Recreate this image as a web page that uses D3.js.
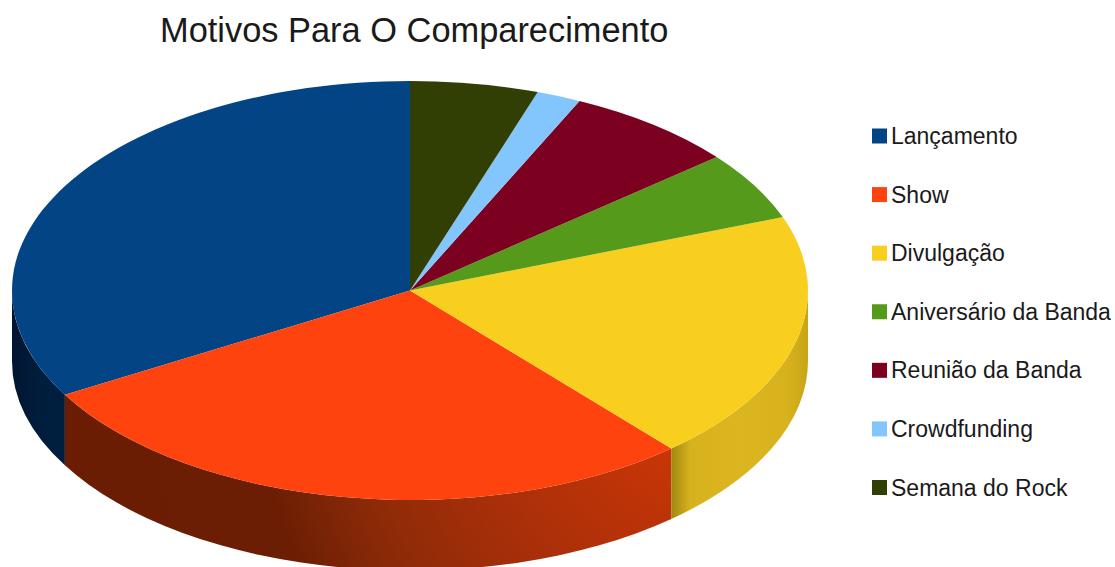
<!DOCTYPE html>
<html>
<head>
<meta charset="utf-8">
<script src="https://cdn.jsdelivr.net/npm/d3@7"></script>
<style>
  html, body { margin: 0; padding: 0; background: #fff; }
  svg { display: block; }
  text { font-family: "Liberation Sans", Arial, sans-serif; fill: #1a1a1a; }
</style>
</head>
<body>
<svg id="chart" width="1115" height="567"></svg>
<script>
const chartTitle = "Motivos Para O Comparecimento";
const categories = ["Lançamento", "Show", "Divulgação", "Aniversário da Banda", "Reunião da Banda", "Crowdfunding", "Semana do Rock"];
const shares = [33.3, 28.1, 19.3, 5.3, 7.0, 1.8, 5.2];
const colors = ["#034584", "#fe430e", "#f9cf1f", "#569a1c", "#7c0020", "#83c6fd", "#313e04"];

// Shading of the visible side walls.
const blueWallStops = [[0, "#00152f"], [0.5, "#001d3c"], [1, "#001f40"]];
const yellowWallStops = [[0, "#a08810"], [0.06, "#b89a15"], [0.14, "#d8b21e"], [0.5, "#dcb620"], [0.85, "#d8b21d"], [1, "#c8a415"]];
// The orange wall is lit from its upper right, so its shade falls off radially.
const orangeWallStops = [[0.1, "#cc3607"], [0.34, "#ad3009"], [0.52, "#912b08"], [0.6, "#7f2606"], [0.68, "#6b1e03"], [1, "#6a1d03"]];

const width = 1115, height = 567;
const cx = 410, cy = 290.5, rx = 398, ry = 209.5, depth = 70.5;

const svg = d3.select("#chart");
const defs = svg.append("defs");

// Flat ellipse projection of a unit circle; angle 0 points up, positive runs clockwise.
const xScale = d3.scaleLinear().domain([-1, 1]).range([cx - rx, cx + rx]);
const yScale = d3.scaleLinear().domain([-1, 1]).range([cy - ry, cy + ry]);
const px = a => xScale(Math.sin(a));
const py = a => yScale(-Math.cos(a));

const rows = categories.map((name, i) => ({ name, share: shares[i], color: colors[i] }));
const arcs = d3.pie().sort(null).value(d => d.share).startAngle(0).endAngle(-2 * Math.PI)(rows);

// The front half of the rim lies between 90 and 270 degrees (clockwise from the top).
const normalise = a => ((a % (2 * Math.PI)) + 2 * Math.PI) % (2 * Math.PI);
const frontStart = Math.PI / 2, frontEnd = 3 * Math.PI / 2;

function wallSpan(d) {
  // Slices run counter-clockwise, so endAngle is the smaller clockwise bearing.
  let lo = normalise(d.endAngle), hi = lo + (d.startAngle - d.endAngle);
  lo = Math.max(lo, frontStart);
  hi = Math.min(hi, frontEnd);
  return lo < hi ? [lo, hi] : null;
}

function wallPath(lo, hi) {
  return `M${px(lo)},${py(lo)} A${rx},${ry} 0 0 1 ${px(hi)},${py(hi)} ` +
         `L${px(hi)},${py(hi) + depth} A${rx},${ry} 0 0 0 ${px(lo)},${py(lo) + depth} Z`;
}

function addStops(gradient, stops) {
  gradient.selectAll("stop").data(stops).join("stop")
    .attr("offset", s => s[0])
    .attr("stop-color", s => s[1]);
}

function addLinearWall(id, lo, hi, stops) {
  const x0 = Math.min(px(lo), px(hi)), x1 = Math.max(px(lo), px(hi));
  addStops(defs.append("linearGradient")
    .attr("id", id)
    .attr("gradientUnits", "userSpaceOnUse")
    .attr("x1", x0).attr("x2", x1).attr("y1", 0).attr("y2", 0), stops);
}

const walls = arcs.map(d => ({ d, span: wallSpan(d) })).filter(w => w.span);

walls.forEach((w, i) => {
  const id = "wall" + i;
  const [lo, hi] = w.span;
  if (w.d.data.name === "Show") {
    addStops(defs.append("radialGradient")
      .attr("id", id)
      .attr("gradientUnits", "userSpaceOnUse")
      .attr("cx", 720).attr("cy", 380).attr("r", 680), orangeWallStops);
  } else {
    addLinearWall(id, lo, hi, w.d.data.name === "Divulgação" ? yellowWallStops : blueWallStops);
  }
});

svg.append("g").attr("class", "walls")
  .selectAll("path").data(walls).join("path")
  .attr("d", w => wallPath(w.span[0], w.span[1]))
  .attr("fill", (w, i) => `url(#wall${i})`);

// Top face: each wedge is traced along the ellipse from centre to rim.
function wedgePath(d) {
  const a0 = d.startAngle, a1 = d.endAngle;
  const large = Math.abs(a1 - a0) > Math.PI ? 1 : 0;
  return `M${cx},${cy} L${px(a0)},${py(a0)} A${rx},${ry} 0 ${large} 0 ${px(a1)},${py(a1)} Z`;
}

svg.append("g").attr("class", "top")
  .selectAll("path").data(arcs).join("path")
  .attr("d", wedgePath)
  .attr("fill", d => d.data.color);

svg.append("text")
  .attr("x", 160).attr("y", 42)
  .attr("font-size", 34.4)
  .text(chartTitle);

// Legend column to the right of the pie.
const legendY = d3.scalePoint().domain(categories).range([136, 487.5]);
const legend = svg.append("g").attr("class", "legend")
  .selectAll("g").data(rows).join("g")
  .attr("transform", d => `translate(872,${legendY(d.name)})`);
legend.append("rect")
  .attr("x", 0).attr("y", -7.5).attr("width", 15).attr("height", 15)
  .attr("fill", d => d.color);
legend.append("text")
  .attr("x", 19).attr("y", 8)
  .attr("font-size", 23)
  .text(d => d.name);
</script>
</body>
</html>
